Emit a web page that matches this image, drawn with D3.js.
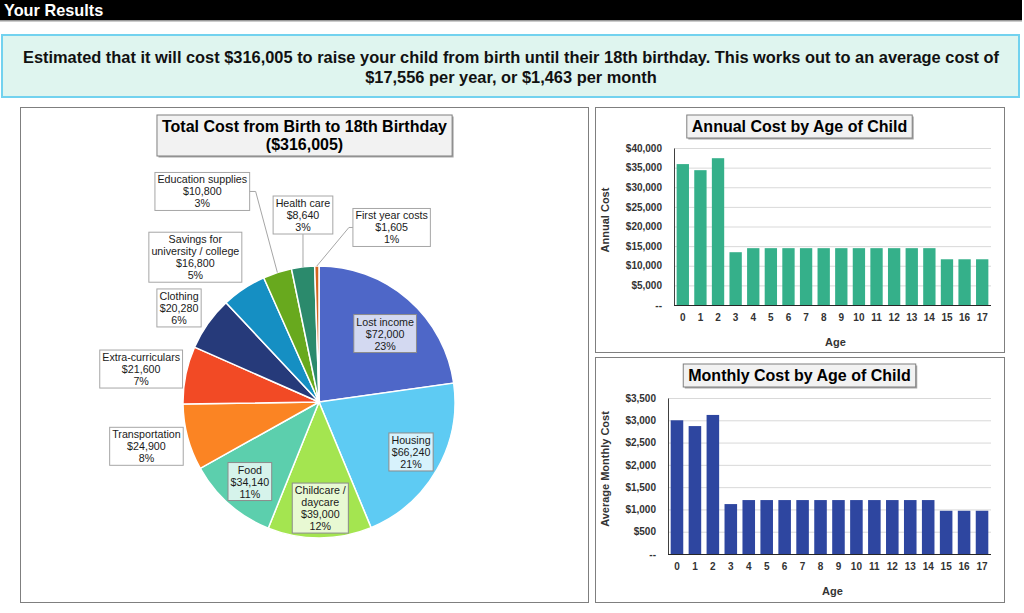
<!DOCTYPE html>
<html>
<head>
<meta charset="utf-8">
<script src="https://cdn.jsdelivr.net/npm/d3@7"></script>
<style>
body { margin: 0; background: #fff; }
svg { display: block; font-family: "Liberation Sans", Arial, sans-serif; }
</style>
</head>
<body>
<svg id="chart" width="1024" height="613"></svg>
<script>

/* data */
var categories = ["Lost income", "Housing", "Childcare / daycare", "Food", "Transportation",
    "Extra-curriculars", "Clothing", "Savings for university / college", "Education supplies",
    "Health care", "First year costs"];
var categoryTotals = [72000, 66240, 39000, 34140, 24900, 21600, 20280, 16800, 10800, 8640, 1605];
var ages = ["0","1","2","3","4","5","6","7","8","9","10","11","12","13","14","15","16","17"];
var annualCost = [35900, 34350, 37400, 13450, 14480, 14480, 14480, 14480, 14480, 14480, 14480,
    14480, 14480, 14480, 14480, 11650, 11650, 11650];
var monthlyCost = [3000, 2870, 3120, 1120, 1210, 1210, 1210, 1210, 1210, 1210, 1210,
    1210, 1210, 1210, 1210, 970, 970, 970];
var annualTicks = [0, 5000, 10000, 15000, 20000, 25000, 30000, 35000, 40000];
var monthlyTicks = [0, 500, 1000, 1500, 2000, 2500, 3000, 3500];

/* look of the slices */
var sliceColours = ["#4e67c8", "#5ecbf3", "#a4e550", "#5ccfad", "#fb8423", "#f24a25",
    "#263a7a", "#158fc3", "#68a91e", "#2b8a6c", "#d3651f"];

//label placement: angle (deg, clockwise from top) and distance as a share of the radius
var labelPlace = {
    "Lost income": {a: 44, k: 0.70},
    "Housing": {a: 118.5, k: 0.77},
    "Childcare / daycare": {a: 179.3, k: 0.78},
    "Food": {a: 221, k: 0.775},
    "Transportation": {a: 255.6, k: 1.31},
    "Extra-curriculars": {a: 280.5, k: 1.33},
    "Clothing": {a: 303.9, k: 1.24},
    "Savings for university / college": {a: 319.5, k: 1.40},
    "Education supplies": {a: 331, k: 1.77, leader: "right"},
    "Health care": {a: 355.1, k: 1.38, leader: "bottom"},
    "First year costs": {a: 22.6, k: 1.39, leader: "left"}
};
var wrapNames = {
    "Childcare / daycare": ["Childcare /", "daycare"],
    "Savings for university / college": ["Savings for", "university / college"]
};

var svg = d3.select("#chart");
var money = d3.format("$,.0f");
var total = d3.sum(categoryTotals);

/* header bar */
svg.append("rect").attr("x", 0).attr("y", 0).attr("width", 1022).attr("height", 20).attr("fill", "#000");
svg.append("rect").attr("x", 0).attr("y", 20).attr("width", 1022).attr("height", 1.5).attr("fill", "#9a9a9a");
svg.append("text").attr("x", 4).attr("y", 16).attr("fill", "#fff")
    .attr("font-size", 16.3).attr("font-weight", "bold").text("Your Results");

/* summary box */
svg.append("rect").attr("x", 2).attr("y", 35).attr("width", 1017).attr("height", 62)
    .attr("fill", "#dff5ef").attr("stroke", "#72d2ef").attr("stroke-width", 2);
var summary = svg.append("text").attr("text-anchor", "middle").attr("font-size", 16.4)
    .attr("font-weight", "bold").attr("fill", "#111");
summary.append("tspan").attr("x", 511).attr("y", 62.5)
    .text("Estimated that it will cost " + money(total) + " to raise your child from birth until their 18th birthday. This works out to an average cost of");
summary.append("tspan").attr("x", 511).attr("y", 82.5)
    .text(money(total / ages.length) + " per year, or " + money(total / ages.length / 12) + " per month");

//panel with a grey frame
function panel(x, y, w, h) {
    svg.append("rect").attr("x", x + 0.5).attr("y", y + 0.5).attr("width", w).attr("height", h)
        .attr("fill", "#fff").attr("stroke", "#7f7f7f");
}

//title in a grey box
function titleBox(cx, top, lines, size) {
    var g = svg.append("g");
    var t = g.append("text").attr("text-anchor", "middle").attr("font-size", size)
        .attr("font-weight", "bold").attr("fill", "#000");
    lines.forEach(function (l, i) {
        t.append("tspan").attr("x", cx).attr("y", top + size + 1 + i * (size + 2)).text(l);
    });
    var b = t.node().getBBox();
    var bx = b.x - 5, bw = b.width + 10, bh = lines.length * (size + 2) + 5;
    g.insert("rect", "text").attr("x", bx + 1.5).attr("y", top + 1.5).attr("width", bw).attr("height", bh)
        .attr("fill", "#a6a6a6");
    g.insert("rect", "text").attr("x", bx).attr("y", top).attr("width", bw).attr("height", bh)
        .attr("fill", "#f2f2f2").attr("stroke", "#7f7f7f");
}

/* pie */
panel(20, 107, 568, 495);
titleBox(304.5, 115, ["Total Cost from Birth to 18th Birthday", "(" + money(total) + ")"], 16);

var cx = 319, cy = 402, r = 136;
var slices = categories.map(function (c, i) { return {name: c, value: categoryTotals[i], colour: sliceColours[i]}; });
var pie = d3.pie().sort(null).value(function (d) { return d.value; });
var arc = d3.arc().innerRadius(0).outerRadius(r);
var arcs = pie(slices);
var pieG = svg.append("g").attr("transform", "translate(" + cx + "," + cy + ")");

pieG.selectAll("path.slice").data(arcs).enter().append("path")
    .attr("class", "slice")
    .attr("d", arc)
    .attr("fill", function (d) { return d.data.colour; })
    .attr("stroke", "#fff").attr("stroke-width", 1.5);

function polar(angleDeg, dist) {
    var a = angleDeg * Math.PI / 180;
    return [Math.sin(a) * dist, -Math.cos(a) * dist];
}

arcs.forEach(function (d) {
    var p = labelPlace[d.data.name];
    var pos = polar(p.a, p.k * r);
    var lines = (wrapNames[d.data.name] || [d.data.name]).concat([money(d.data.value), d3.format(".0%")(d.data.value / total)]);
    var g = pieG.append("g").attr("transform", "translate(" + pos[0] + "," + pos[1] + ")");
    var lh = 12;
    var t = g.append("text").attr("text-anchor", "middle").attr("font-size", 10.7).attr("fill", "#1a1a1a");
    lines.forEach(function (l, i) {
        t.append("tspan").attr("x", 0).attr("y", (i - (lines.length - 1) / 2) * lh + 4).text(l);
    });
    var bw = t.node().getBBox().width + 5;
    var bh = lines.length * lh + 2;
    var inside = p.k < 1;
    g.insert("rect", "text").attr("x", -bw / 2).attr("y", -bh / 2).attr("width", bw).attr("height", bh)
        .attr("fill", inside ? d3.interpolateRgb(d.data.colour, "#fff")(0.75) : "#fff")
        .attr("stroke", inside ? "#8c8c8c" : "#a6a6a6");

    if (p.leader) {
        var mid = (d.startAngle + d.endAngle) / 2 * 180 / Math.PI;
        var edge = polar(mid, r);
        var pts;
        if (p.leader === "right") {
            pts = [[pos[0] + bw / 2, pos[1]], [pos[0] + bw / 2 + 6, pos[1]], edge];
        } else if (p.leader === "left") {
            pts = [[pos[0] - bw / 2, pos[1]], [pos[0] - bw / 2 - 4, pos[1]], edge];
        } else {
            pts = [[pos[0], pos[1] + bh / 2], edge];
        }
        pieG.append("path").attr("d", d3.line()(pts)).attr("fill", "none")
            .attr("stroke", "#a6a6a6").attr("stroke-width", 1);
    }
});

/* bar charts */
function barChart(cfg) {
    panel(cfg.x0, cfg.y0, 409, 245);
    titleBox(799.5, cfg.titleTop, [cfg.title], 16);

    var x = d3.scaleBand().domain(ages).range([cfg.left, 991]).paddingInner(0.3).paddingOuter(0.15);
    var y = d3.scaleLinear().domain([0, d3.max(cfg.ticks)]).range([cfg.bottom, cfg.top]);

    var grid = svg.append("g").attr("transform", "translate(" + cfg.left + ",0)")
        .call(d3.axisLeft(y).tickValues(cfg.ticks.slice(1)).tickSize(-(991 - cfg.left)).tickFormat(""));
    grid.select(".domain").remove();
    grid.selectAll("line").attr("stroke", "#d9d9d9");

    svg.append("g").selectAll("rect").data(cfg.values).enter().append("rect")
        .attr("x", function (d, i) { return x(ages[i]); })
        .attr("y", function (d) { return y(d); })
        .attr("width", x.bandwidth())
        .attr("height", function (d) { return y(0) - y(d); })
        .attr("fill", cfg.colour);

    var yAxis = svg.append("g").attr("transform", "translate(" + cfg.left + ",0)")
        .call(d3.axisLeft(y).tickValues(cfg.ticks).tickSize(0).tickPadding(12)
            .tickFormat(function (d) { return d === 0 ? "--" : "$" + d3.format(",")(d); }));
    yAxis.select(".domain").attr("stroke", "#404040");
    yAxis.selectAll("text").attr("font-family", "Liberation Sans, Arial, sans-serif")
        .attr("font-size", 10).attr("font-weight", "bold").attr("fill", "#333");

    var xAxis = svg.append("g").attr("transform", "translate(0," + cfg.bottom + ")")
        .call(d3.axisBottom(x).tickSize(0).tickPadding(9).tickSizeOuter(0));
    xAxis.select(".domain").attr("stroke", "#262626").attr("d", "M" + cfg.left + ",0.5H991");
    xAxis.selectAll("text").attr("font-family", "Liberation Sans, Arial, sans-serif")
        .attr("font-size", 10).attr("font-weight", "bold").attr("fill", "#333");

    svg.append("text").attr("x", (cfg.left + 991) / 2 + 3).attr("y", cfg.bottom + 41)
        .attr("text-anchor", "middle").attr("font-size", 11).attr("font-weight", "bold")
        .attr("fill", "#333").text("Age");
    svg.append("text").attr("transform", "translate(609," + cfg.yTitleMid + ") rotate(-90)")
        .attr("text-anchor", "middle").attr("font-size", 11).attr("font-weight", "bold")
        .attr("fill", "#333").text(cfg.yTitle);
}

barChart({x0: 595, y0: 107, titleTop: 115, title: "Annual Cost by Age of Child",
    left: 674, top: 148, bottom: 305, ticks: annualTicks, values: annualCost,
    colour: "#35b08a", yTitle: "Annual Cost", yTitleMid: 220});
barChart({x0: 595, y0: 357, titleTop: 364, title: "Monthly Cost by Age of Child",
    left: 668, top: 398, bottom: 554, ticks: monthlyTicks, values: monthlyCost,
    colour: "#2e46a0", yTitle: "Average Monthly Cost", yTitleMid: 469});

</script>
</body>
</html>
